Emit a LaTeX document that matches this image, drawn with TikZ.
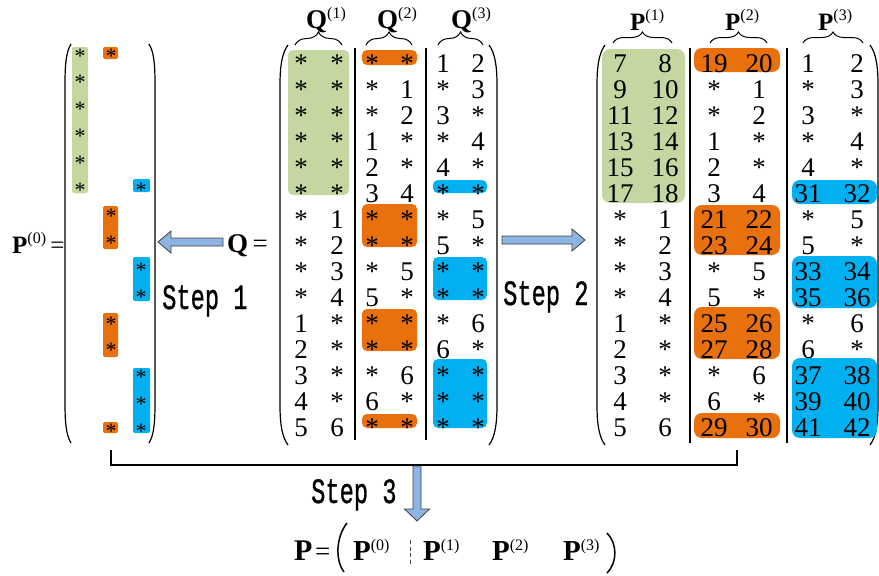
\documentclass[tikz,border=0pt]{standalone}
\usepackage{fontspec}
\setmainfont{Liberation Serif}
\newfontfamily\stepfont[FakeBold=1]{Liberation Mono}
\usetikzlibrary{decorations.pathreplacing}
\definecolor{cgreen}{RGB}{196,215,160}
\definecolor{corange}{RGB}{232,113,14}
\definecolor{cblue}{RGB}{0,176,240}
\definecolor{carrow}{RGB}{142,180,227}
\newcommand\supP[3]{\fontsize{#1}{#1}\selectfont\textbf{#2}\raisebox{10pt}{\fontsize{16}{16}\selectfont(#3)}}
\begin{document}
\begin{tikzpicture}[x=1pt,y=-1pt,
  ent/.style={anchor=base,inner sep=0pt,font=\fontsize{27}{27}\selectfont},
  sment/.style={anchor=base,inner sep=0pt,font=\fontsize{22}{22}\selectfont},
  lab/.style={anchor=base west,inner sep=0pt},
  stp/.style={anchor=base west,inner sep=0pt,font=\stepfont\fontsize{23.7}{24}\selectfont},
  gbox/.style={fill=cgreen,rounded corners=#1},
  obox/.style={fill=corange,rounded corners=#1},
  bbox/.style={fill=cblue,rounded corners=#1},
  sepline/.style={line width=1.1pt},
  paren/.style={line width=1.2pt},
  brc/.style={decorate,decoration={brace,amplitude=#1},line width=1pt},
  fatarr/.style={draw=black!75,fill=carrow,line width=0.8pt,line join=miter},
]
\useasboundingbox (0,0) rectangle (879,576);

% ---------- P^(0) matrix ----------
\node[lab] (p0lab) at (12,253) {\supP{25}{P}{0}\,=};
\draw[paren] (71,44) .. controls (66,52) and (65,65) .. (65,84) -- (65,403) .. controls (65,422) and (66,435) .. (71,443);
\draw[paren] (149,44) .. controls (154,52) and (155,65) .. (155,84) -- (155,403) .. controls (155,422) and (154,435) .. (149,443);
\fill[gbox=2pt] (72,47) rectangle (88,193);
\fill[obox=2pt] (103,47) rectangle (118,59);
\fill[obox=2pt] (103,206) rectangle (118,249);
\fill[obox=2pt] (103,313) rectangle (118,357);
\fill[obox=2pt] (103,422) rectangle (118,433);
\fill[bbox=2pt] (133,179) rectangle (150,192);
\fill[bbox=2pt] (133,257) rectangle (150,301);
\fill[bbox=2pt] (133,368) rectangle (150,433);
\foreach \r in {0,...,5}{\pgfmathsetmacro\yb{63+26.8*\r}\node[sment] (pz\r a) at (80,\yb) {*};}
\foreach \r in {0,6,7,10,11,14}{\pgfmathsetmacro\yb{63+26.8*\r}\node[sment] (pz\r b) at (111,\yb) {*};}
\foreach \r in {5,8,9,12,13,14}{\pgfmathsetmacro\yb{63+26.8*\r}\node[sment] (pz\r c) at (141,\yb) {*};}

% ---------- Q matrix ----------
\node[lab] (qlab) at (227,252) {\fontsize{27}{27}\selectfont\textbf{Q}\,=};
\draw[paren] (288,45) .. controls (282,53) and (280,66) .. (280,85) -- (280,405) .. controls (280,424) and (282,437) .. (288,445);
\draw[paren] (489,45) .. controls (495,53) and (497,66) .. (497,85) -- (497,405) .. controls (497,424) and (495,437) .. (489,445);
\draw[sepline] (355,48) -- (355,440);
\draw[sepline] (426,48) -- (426,440);
\fill[gbox=5pt] (288,50) rectangle (349,195);
\fill[obox=5pt] (362,50) rectangle (417,65);
\fill[obox=5pt] (362,204) rectangle (417,247);
\fill[obox=5pt] (362,309) rectangle (417,351);
\fill[obox=5pt] (362,414) rectangle (417,428);
\fill[bbox=5pt] (433,180) rectangle (487,193);
\fill[bbox=5pt] (433,257) rectangle (487,300);
\fill[bbox=5pt] (433,359) rectangle (487,428);
\foreach \a/\b/\c/\d/\e/\f [count=\i from 0] in {
 */*/*/*/1/2, */*/*/1/*/3, */*/*/2/3/*, */*/1/*/*/4, */*/2/*/4/*,
 */*/3/4/*/*, */1/*/*/*/5, */2/*/*/5/*, */3/*/5/*/*, */4/5/*/*/*,
 1/*/*/*/*/6, 2/*/*/*/6/*, 3/*/*/6/*/*, 4/*/6/*/*/*, 5/6/*/*/*/*}{
 \pgfmathsetmacro\yb{72+26*\i}
 \node[ent] (q\i a) at (301,\yb) {\a};
 \node[ent] (q\i b) at (337,\yb) {\b};
 \node[ent] (q\i c) at (372,\yb) {\c};
 \node[ent] (q\i d) at (407,\yb) {\d};
 \node[ent] (q\i e) at (443,\yb) {\e};
 \node[ent] (q\i f) at (478,\yb) {\f};
}
\draw[brc=13pt] (295,45) -- (342,45);
\draw[brc=13pt] (366,45) -- (412,45);
\draw[brc=13pt] (438,45) -- (483,45);
\node[lab] (q1lab) at (306,28) {\supP{27}{Q}{1}};
\node[lab] (q2lab) at (377,28) {\supP{27}{Q}{2}};
\node[lab] (q3lab) at (451,28) {\supP{27}{Q}{3}};

% ---------- P matrix ----------
\draw[paren] (605,45) .. controls (599,53) and (597,66) .. (597,85) -- (597,405) .. controls (597,424) and (599,437) .. (605,445);
\draw[paren] (870,45) .. controls (876,53) and (878,66) .. (878,85) -- (878,405) .. controls (878,424) and (876,437) .. (870,445);
\draw[sepline] (690,48) -- (690,443);
\draw[sepline] (787,48) -- (787,443);
\fill[gbox=8pt] (602,49) rectangle (685,203);
\fill[obox=8pt] (694,48) rectangle (780,72);
\fill[obox=8pt] (694,205) rectangle (780,255);
\fill[obox=8pt] (694,307) rectangle (780,359);
\fill[obox=8pt] (694,413) rectangle (780,438);
\fill[bbox=8pt] (792,180) rectangle (877,204);
\fill[bbox=8pt] (792,256) rectangle (877,308);
\fill[bbox=8pt] (792,358) rectangle (877,438);
\foreach \a/\b/\c/\d/\e/\f [count=\i from 0] in {
 7/8/19/20/1/2, 9/10/*/1/*/3, 11/12/*/2/3/*, 13/14/1/*/*/4, 15/16/2/*/4/*,
 17/18/3/4/31/32, */1/21/22/*/5, */2/23/24/5/*, */3/*/5/33/34, */4/5/*/35/36,
 1/*/25/26/*/6, 2/*/27/28/6/*, 3/*/*/6/37/38, 4/*/6/*/39/40, 5/6/29/30/41/42}{
 \pgfmathsetmacro\yb{72+26*\i}
 \node[ent] (p\i a) at (620,\yb) {\a};
 \node[ent] (p\i b) at (665,\yb) {\b};
 \node[ent] (p\i c) at (714,\yb) {\c};
 \node[ent] (p\i d) at (759,\yb) {\d};
 \node[ent] (p\i e) at (808,\yb) {\e};
 \node[ent] (p\i f) at (857,\yb) {\f};
}
\draw[brc=11pt] (613,43) -- (672,43);
\draw[brc=11pt] (710,43) -- (767,43);
\draw[brc=11pt] (803,43) -- (863,43);
\node[lab] (p1lab) at (630,30) {\supP{25}{P}{1}};
\node[lab] (p2lab) at (725,30) {\supP{25}{P}{2}};
\node[lab] (p3lab) at (818,30) {\supP{25}{P}{3}};

% ---------- steps ----------
\coordinate (s1a) at (223,242);
\coordinate (s1b) at (158,242);
\draw[fatarr] (s1b) -- ([shift={(13,-11)}]s1b) -- ([shift={(13,-4)}]s1b) -- ([shift={(0,-4)}]s1a)
  -- ([shift={(0,4)}]s1a) -- ([shift={(13,4)}]s1b) -- ([shift={(13,11)}]s1b) -- cycle;
\node[stp] (step1) at (162,309) {\scalebox{1}[1.5]{Step 1}};

\coordinate (s2a) at (502,240);
\coordinate (s2b) at (585,240);
\draw[fatarr] (s2b) -- ([shift={(-13,-11)}]s2b) -- ([shift={(-13,-4)}]s2b) -- ([shift={(0,-4)}]s2a)
  -- ([shift={(0,4)}]s2a) -- ([shift={(-13,4)}]s2b) -- ([shift={(-13,11)}]s2b) -- cycle;
\node[stp] (step2) at (503,305) {\scalebox{1}[1.5]{Step 2}};

\coordinate (bl) at (111,450);
\coordinate (br) at (737,450);
\draw[line width=1.3pt] (bl) -- (111,465) -- (737,465) -- (br);
\coordinate (s3a) at (417,466);
\coordinate (s3b) at (417,521);
\draw[fatarr] (s3b) -- ([shift={(-12.5,-12)}]s3b) -- ([shift={(-4,-12)}]s3b) -- ([shift={(-4,0)}]s3a)
  -- ([shift={(4,0)}]s3a) -- ([shift={(4,-12)}]s3b) -- ([shift={(12.5,-12)}]s3b) -- cycle;
\node[stp] (step3) at (311,503) {\scalebox{1}[1.5]{Step 3}};

% ---------- formula ----------
\node[lab] (fP) at (294,560) {\fontsize{30}{30}\selectfont\textbf{P}};
\node[lab] (feq) at (315,560) {\fontsize{27}{27}\selectfont =};
\draw[line width=1.5pt] (347,523) .. controls (336,537) and (335,560) .. (344,572);
\node[lab] (f0) at (353,560) {\supP{29}{P}{0}};
\draw[line width=1pt,black!70,dash pattern=on 4pt off 2.5pt] (410,540) -- (410,566);
\node[lab] (f1) at (423,560) {\supP{29}{P}{1}};
\node[lab] (f2) at (492,560) {\supP{29}{P}{2}};
\node[lab] (f3) at (563,560) {\supP{29}{P}{3}};
\draw[line width=1.5pt] (607,533) .. controls (617,543) and (618,562) .. (607,573);
\end{tikzpicture}
\end{document}
